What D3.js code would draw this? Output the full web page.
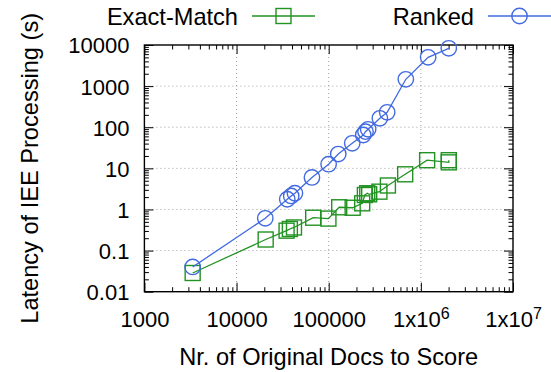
<!DOCTYPE html>
<html>
<head>
<meta charset="utf-8">
<script src="https://cdn.jsdelivr.net/npm/d3@7/dist/d3.min.js"></script>
<style>
  body { margin: 0; background: #fff; }
  text { font-family: "Liberation Sans", Arial, sans-serif; fill: #000; }
</style>
</head>
<body>
<div id="chart"></div>
<script>

// values
var exactDocs = [3340, 20700, 34900, 37900, 42000, 67900, 99300, 130000, 182000, 231000, 247000, 262000, 275000, 355000, 439000, 676000, 1170000, 2010000, 2010000];
var exactSecs = [0.0285, 0.186, 0.305, 0.335, 0.365, 0.63, 0.60, 1.13, 1.10, 1.41, 2.25, 2.48, 2.34, 2.71, 3.83, 7.17, 15.8, 14.0, 15.8];

var rankedDocs = [3340, 20500, 35500, 39200, 43000, 65800, 99800, 127000, 180000, 237000, 251000, 268000, 359000, 431000, 687000, 1200000, 2010000];
var rankedSecs = [0.040, 0.61, 1.77, 2.13, 2.48, 6.0, 12.6, 22.3, 40.7, 64.7, 78, 89, 165, 231, 1465, 5020, 8310];

var xTicks = [1e3, 1e4, 1e5, 1e6, 1e7];
var xTickLabels = [["1000"], ["10000"], ["100000"], ["1x10", "6"], ["1x10", "7"]];
var yTicks = [0.01, 0.1, 1, 10, 100, 1000, 10000];
var yTickLabels = ["0.01", "0.1", "1", "10", "100", "1000", "10000"];

var seriesNames = ["Exact-Match", "Ranked"];

var width = 551, height = 372,
    plotL = 144.4, plotR = 513, plotT = 45, plotB = 291.7,
    tickFont = 22, titleFont = 23.6,
    green = "#229222", blue = "#4169e1";

var svg = d3.select("#chart").append("svg")
    .attr("width", width)
    .attr("height", height);

var x = d3.scaleLog().domain([1e3, 1e7]).range([plotL, plotR]);
var y = d3.scaleLog().domain([0.01, 1e4]).range([plotB, plotT]);

var minorOf = function(majors) {
  var out = [];
  majors.slice(0, -1).forEach(function(m) {
    for (var k = 2; k < 10; k++) out.push(m * k);
  });
  return out;
};
var xMinor = minorOf(xTicks), yMinor = minorOf(yTicks);

// grid
svg.append("g").selectAll("line")
    .data(xTicks.slice(1, -1))
  .enter().append("line")
    .attr("x1", function(d) { return x(d); })
    .attr("x2", function(d) { return x(d); })
    .attr("y1", plotT).attr("y2", plotB)
    .attr("stroke", "#a0a0a0").attr("stroke-width", 1)
    .attr("stroke-dasharray", "1,3");
svg.append("g").selectAll("line")
    .data(yTicks.slice(1, -1))
  .enter().append("line")
    .attr("y1", function(d) { return y(d); })
    .attr("y2", function(d) { return y(d); })
    .attr("x1", plotL).attr("x2", plotR)
    .attr("stroke", "#a0a0a0").attr("stroke-width", 1)
    .attr("stroke-dasharray", "1,3");

// axes: inward ticks on all four sides
var styleAxis = function(g) {
  g.select(".domain").remove();
  g.attr("font-family", null).attr("font-size", null);
  g.selectAll("line").attr("stroke", "#000").attr("stroke-width", 1);
};

svg.append("g").attr("transform", "translate(0," + plotB + ")")
    .call(d3.axisBottom(x).tickValues(xMinor).tickSize(-4.5).tickFormat(""))
    .call(styleAxis);
svg.append("g").attr("transform", "translate(0," + plotT + ")")
    .call(d3.axisTop(x).tickValues(xMinor).tickSize(-4.5).tickFormat(""))
    .call(styleAxis);
svg.append("g").attr("transform", "translate(0," + plotT + ")")
    .call(d3.axisTop(x).tickValues(xTicks).tickSize(-9).tickFormat(""))
    .call(styleAxis);
svg.append("g").attr("transform", "translate(" + plotL + ",0)")
    .call(d3.axisLeft(y).tickValues(yMinor).tickSize(-4.5).tickFormat(""))
    .call(styleAxis);
svg.append("g").attr("transform", "translate(" + plotR + ",0)")
    .call(d3.axisRight(y).tickValues(yMinor).tickSize(-4.5).tickFormat(""))
    .call(styleAxis);
svg.append("g").attr("transform", "translate(" + plotR + ",0)")
    .call(d3.axisRight(y).tickValues(yTicks).tickSize(-9).tickFormat(""))
    .call(styleAxis);

var xAxis = svg.append("g").attr("transform", "translate(0," + plotB + ")")
    .call(d3.axisBottom(x).tickValues(xTicks).tickSize(-9).tickFormat(""))
    .call(styleAxis);
xAxis.selectAll(".tick text").remove();
xAxis.selectAll(".tick").append("text")
    .attr("y", 35.5)
    .attr("text-anchor", "middle")
    .style("font-size", tickFont + "px")
    .each(function(d, i) {
      var t = d3.select(this), parts = xTickLabels[i];
      t.append("tspan").text(parts[0]);
      if (parts[1]) {
        t.append("tspan").attr("dy", -8).style("font-size", "16px").text(parts[1]);
      }
    });

var yAxis = svg.append("g").attr("transform", "translate(" + plotL + ",0)")
    .call(d3.axisLeft(y).tickValues(yTicks).tickSize(-9)
      .tickFormat(function(d, i) { return yTickLabels[i]; }))
    .call(styleAxis);
yAxis.selectAll(".tick text")
    .attr("x", -15)
    .attr("dy", "0.36em")
    .attr("fill", "#000")
    .style("font-size", tickFont + "px");

// frame
svg.append("rect")
    .attr("x", plotL).attr("y", plotT)
    .attr("width", plotR - plotL).attr("height", plotB - plotT)
    .attr("fill", "none").attr("stroke", "#000").attr("stroke-width", 1.4);

// series
var line = d3.line()
    .x(function(d) { return x(d[0]); })
    .y(function(d) { return y(d[1]); });

var exactPts = d3.zip(exactDocs, exactSecs),
    rankedPts = d3.zip(rankedDocs, rankedSecs);

svg.append("path").datum(exactPts)
    .attr("d", line).attr("fill", "none")
    .attr("stroke", green).attr("stroke-width", 1.3);
svg.append("g").selectAll("rect")
    .data(exactPts)
  .enter().append("rect")
    .attr("x", function(d) { return x(d[0]) - 7.5; })
    .attr("y", function(d) { return y(d[1]) - 7.5; })
    .attr("width", 15).attr("height", 15)
    .attr("fill", "none").attr("stroke", green).attr("stroke-width", 1.4);

svg.append("path").datum(rankedPts)
    .attr("d", line).attr("fill", "none")
    .attr("stroke", blue).attr("stroke-width", 1.3);
svg.append("g").selectAll("circle")
    .data(rankedPts)
  .enter().append("circle")
    .attr("cx", function(d) { return x(d[0]); })
    .attr("cy", function(d) { return y(d[1]); })
    .attr("r", 7.7)
    .attr("fill", "none").attr("stroke", blue).attr("stroke-width", 1.4);

// legend
var legend = [
  {name: seriesNames[0], color: green, textEnd: 238, lineStart: 252, marker: "square"},
  {name: seriesNames[1], color: blue, textEnd: 474, lineStart: 488, marker: "circle"}
];
legend.forEach(function(l) {
  var cx = l.lineStart + 31.5, cy = 16;
  svg.append("text")
      .attr("x", l.textEnd).attr("y", cy + 8.5)
      .attr("text-anchor", "end")
      .style("font-size", titleFont + "px")
      .text(l.name);
  svg.append("line")
      .attr("x1", l.lineStart).attr("x2", l.lineStart + 63)
      .attr("y1", cy).attr("y2", cy)
      .attr("stroke", l.color).attr("stroke-width", 1.3);
  if (l.marker === "square") {
    svg.append("rect")
        .attr("x", cx - 7.5).attr("y", cy - 7.5)
        .attr("width", 15).attr("height", 15)
        .attr("fill", "none").attr("stroke", l.color).attr("stroke-width", 1.4);
  } else {
    svg.append("circle")
        .attr("cx", cx).attr("cy", cy).attr("r", 7.7)
        .attr("fill", "none").attr("stroke", l.color).attr("stroke-width", 1.4);
  }
});

// axis titles
svg.append("text")
    .attr("x", (plotL + plotR) / 2).attr("y", 365)
    .attr("text-anchor", "middle")
    .style("font-size", titleFont + "px")
    .text("Nr. of Original Docs to Score");
svg.append("text")
    .attr("transform", "translate(38," + ((plotT + plotB) / 2) + ") rotate(-90)")
    .attr("text-anchor", "middle")
    .style("font-size", titleFont + "px")
    .text("Latency of IEE Processing (s)");

</script>
</body>
</html>
